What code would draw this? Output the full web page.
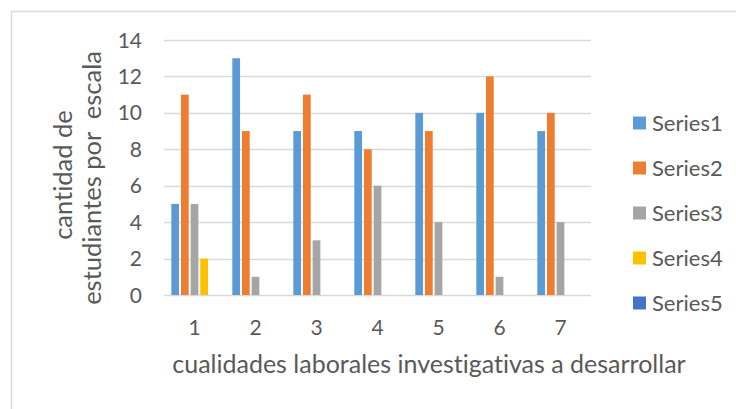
<!DOCTYPE html>
<html lang="es">
  <head>
    <meta charset="UTF-8" />
    <title>cualidades laborales investigativas</title>
    <script src="https://d3js.org/d3.v7.min.js"></script>
    <style>
      html,
      body {
        margin: 0;
        padding: 0;
        background: #ffffff;
      }
      text {
        font-family: "Lato", "Open Sans", sans-serif;
        fill: #595959;
        font-variant-ligatures: none;
      }
    </style>
  </head>
  <body>
    <div id="viz"></div>
    <script>
      // chart data
      const categories = ["1", "2", "3", "4", "5", "6", "7"];
      const seriesNames = ["Series1", "Series2", "Series3", "Series4", "Series5"];
      const series1 = [5, 13, 9, 9, 10, 10, 9];
      const series2 = [11, 9, 11, 8, 9, 12, 10];
      const series3 = [5, 1, 3, 6, 4, 1, 4];
      const series4 = [2, 0, 0, 0, 0, 0, 0];
      const series5 = [0, 0, 0, 0, 0, 0, 0];
      const yTicks = [0, 2, 4, 6, 8, 10, 12, 14];
      const colors = ["#5B9BD5", "#ED7D31", "#A5A5A5", "#FFC000", "#4472C4"];

      const allSeries = [series1, series2, series3, series4, series5];

      const width = 736;
      const height = 409;
      // plot area
      const margin = { top: 40, right: 145, bottom: 114, left: 164 };

      const svg = d3
        .select("#viz")
        .append("svg")
        .attr("width", width)
        .attr("height", height);

      // chart frame
      svg
        .append("rect")
        .attr("x", 11.5)
        .attr("y", 11.5)
        .attr("width", width)
        .attr("height", height)
        .attr("fill", "none")
        .attr("stroke", "#D9D9D9")
        .attr("stroke-width", 1.5);

      const xScale = d3
        .scaleBand()
        .domain(categories)
        .range([margin.left, width - margin.right])
        .paddingInner(0.24)
        .paddingOuter(0.12);

      const xInner = d3
        .scaleBand()
        .domain(seriesNames)
        .range([0, xScale.bandwidth()])
        .paddingInner(0.2);

      const yScale = d3
        .scaleLinear()
        .domain([0, 14])
        .range([height - margin.bottom, margin.top]);

      // gridlines
      svg
        .append("g")
        .selectAll("line")
        .data(yTicks)
        .join("line")
        .attr("x1", margin.left)
        .attr("x2", width - margin.right)
        .attr("y1", (d) => Math.round(yScale(d)) + 0.5)
        .attr("y2", (d) => Math.round(yScale(d)) + 0.5)
        .attr("stroke", "#D9D9D9")
        .attr("stroke-width", 1.5);

      // y tick labels
      svg
        .append("g")
        .selectAll("text")
        .data(yTicks)
        .join("text")
        .attr("x", margin.left - 22)
        .attr("y", (d) => yScale(d))
        .attr("dy", "0.36em")
        .attr("text-anchor", "end")
        .style("font-size", "21px")
        .text((d) => d);

      // bars
      const table = [];
      categories.forEach((c, i) => {
        seriesNames.forEach((s, j) => {
          table.push({ cat: c, series: s, value: allSeries[j][i], color: colors[j] });
        });
      });

      svg
        .append("g")
        .selectAll("rect")
        .data(table.filter((d) => d.value > 0))
        .join("rect")
        .attr("x", (d) => xScale(d.cat) + xInner(d.series))
        .attr("y", (d) => yScale(d.value))
        .attr("width", xInner.bandwidth())
        .attr("height", (d) => yScale(0) - yScale(d.value))
        .attr("fill", (d) => d.color);

      // x tick labels
      svg
        .append("g")
        .selectAll("text")
        .data(categories)
        .join("text")
        .attr("x", (d) => xScale(d) + xScale.bandwidth() / 2)
        .attr("y", 327)
        .attr("dy", "0.36em")
        .attr("text-anchor", "middle")
        .style("font-size", "21px")
        .text((d) => d);

      // x axis title
      svg
        .append("text")
        .attr("x", 429)
        .attr("y", 373)
        .attr("text-anchor", "middle")
        .style("font-size", "25px")
        .text("cualidades laborales investigativas a desarrollar");

      // y axis title (two lines)
      const yTitle = svg
        .append("text")
        .attr("transform", "translate(0,178) rotate(-90)")
        .attr("text-anchor", "middle")
        .style("font-size", "25.5px");
      yTitle.append("tspan").attr("x", 3).attr("y", 72).text("cantidad de");
      yTitle
        .append("tspan")
        .attr("x", 0)
        .attr("y", 101)
        .attr("xml:space", "preserve")
        .style("white-space", "pre")
        .text("estudiantes por  escala");

      // legend
      const legend = svg
        .append("g")
        .selectAll("g")
        .data(seriesNames)
        .join("g")
        .attr("transform", (d, i) => `translate(633,${123 + i * 45})`);

      legend
        .append("rect")
        .attr("x", 0)
        .attr("y", -6.5)
        .attr("width", 13)
        .attr("height", 13)
        .attr("fill", (d, i) => colors[i]);

      legend
        .append("text")
        .attr("x", 19)
        .attr("y", 0)
        .attr("dy", "0.36em")
        .style("font-size", "22px")
        .text((d) => d);
    </script>
  </body>
</html>
